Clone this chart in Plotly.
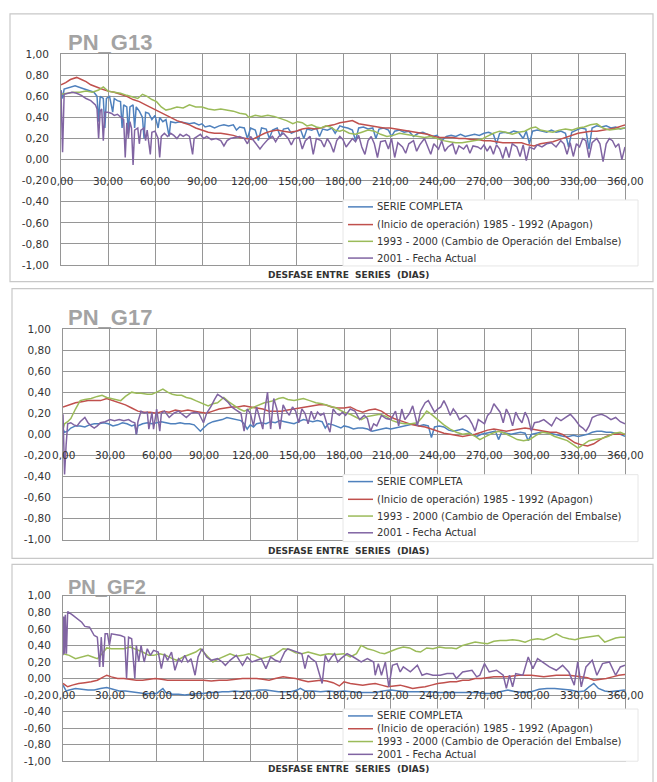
import plotly.graph_objects as go

# ---------------- data (lag in days, correlation) ----------------
SERIES_NAMES = ["SERIE COMPLETA",
                "(Inicio de operación) 1985 - 1992 (Apagon)",
                "1993 - 2000 (Cambio de Operación del Embalse)",
                "2001 - Fecha Actual"]
PANEL_TITLES = ["PN_G13", "PN_G17", "PN_GF2"]
XTICK_VALS = [0, 30, 60, 90, 120, 150, 180, 210, 240, 270, 300, 330, 360]
XTICK_TEXT = ["0,00", "30,00", "60,00", "90,00", "120,00", "150,00", "180,00",
              "210,00", "240,00", "270,00", "300,00", "330,00", "360,00"]
YTICK_VALS = [1.0, 0.8, 0.6, 0.4, 0.2, 0.0, -0.2, -0.4, -0.6, -0.8, -1.0]
YTICK_TEXT = ["1,00", "0,80", "0,60", "0,40", "0,20", "0,00", "-0,20", "-0,40",
              "-0,60", "-0,80", "-1,00"]
X_TITLE = "DESFASE ENTRE  SERIES  (DIAS)"

G13_SERIE = [(0,0.66),(1,0.58),(2,0.67),(5,0.68),(9,0.70),(13,0.68),(17,0.66),(21,0.64),(23,0.60),(24,0.36),(25,0.60),(27,0.58),(28,0.30),(29,0.58),(31,0.60),(33,0.45),(34,0.58),(36,0.56),(38,0.55),(39,0.30),(40,0.52),(42,0.50),(43,0.25),(44,0.50),(46,0.52),(47,0.30),(48,0.50),(50,0.46),(52,0.40),(53,0.20),(54,0.45),(56,0.44),(58,0.38),(60,0.42),(62,0.30),(63,0.40),(65,0.36),(67,0.38),(69,0.22),(70,0.36),(73,0.35),(76,0.36),(79,0.35),(82,0.34),(85,0.35),(88,0.33),(90,0.34),(92,0.31),(95,0.32),(98,0.30),(101,0.32),(104,0.33),(107,0.32),(110,0.33),(112,0.28),(114,0.31),(117,0.30),(119,0.20),(121,0.30),(124,0.28),(126,0.18),(128,0.30),(131,0.29),(133,0.20),(135,0.28),(138,0.30),(140,0.22),(142,0.29),(145,0.30),(147,0.25),(150,0.27),(153,0.28),(155,0.20),(157,0.29),(160,0.28),(163,0.30),(165,0.22),(167,0.29),(170,0.28),(173,0.30),(175,0.25),(178,0.32),(180,0.31),
             (183,0.30),(186,0.28),(188,0.18),(190,0.30),(193,0.31),(196,0.29),(199,0.30),(201,0.20),(203,0.29),(206,0.30),(209,0.28),(211,0.22),(213,0.27),(216,0.28),(219,0.26),(222,0.27),(225,0.22),(228,0.25),(231,0.26),(234,0.24),(237,0.22),(240,0.23),(243,0.18),(246,0.22),(249,0.23),(252,0.22),(255,0.24),(258,0.22),(261,0.23),(264,0.24),(267,0.23),(270,0.25),(273,0.26),(276,0.24),(278,0.15),(280,0.25),(283,0.26),(286,0.25),(289,0.27),(292,0.26),(295,0.20),(297,0.27),(299,0.15),(301,0.27),(304,0.28),(307,0.27),(310,0.26),(313,0.28),(316,0.26),(319,0.27),(322,0.25),(324,0.12),(326,0.26),(329,0.28),(332,0.30),(335,0.29),(337,0.10),(339,0.30),(342,0.32),(345,0.31),(348,0.32),(351,0.30),(354,0.31),(357,0.29),(360,0.30)]
G13_P1 = [(0,0.71),(3,0.73),(6,0.76),(10,0.78),(13,0.76),(16,0.74),(19,0.71),(22,0.69),(26,0.67),(30,0.65),(34,0.64),(38,0.62),(42,0.60),(46,0.57),(50,0.55),(54,0.52),(58,0.49),(62,0.46),(66,0.43),(70,0.40),(74,0.37),(78,0.35),(82,0.33),(86,0.30),(90,0.28),(94,0.26),(98,0.25),(102,0.25),(106,0.24),(110,0.23),(114,0.21),(118,0.20),(122,0.19),(126,0.22),(130,0.25),(134,0.27),(138,0.28),(142,0.27),(146,0.26),(150,0.27),(154,0.29),(158,0.30),(162,0.29),(166,0.30),(170,0.32),(174,0.33),(178,0.35),(182,0.36),(186,0.37),(190,0.34),(194,0.33),(198,0.32),(202,0.31),(206,0.30),(210,0.30),(214,0.29),(218,0.28),(222,0.27),(226,0.26),(230,0.25),(234,0.24),(238,0.22),(242,0.21),(246,0.21),(250,0.21),(254,0.20),(258,0.20),(262,0.19),(266,0.19),(270,0.18),(274,0.18),(278,0.17),(282,0.16),(286,0.16),(290,0.16),(294,0.16),(298,0.14),(302,0.13),(306,0.15),(310,0.16),(314,0.17),(318,0.19),(322,0.21),(326,0.23),(330,0.25),(334,0.26),(338,0.27),(342,0.27),(346,0.28),(350,0.29),(354,0.30),(358,0.32),(360,0.33)]
G13_P2 = [(0,0.62),(4,0.63),(8,0.64),(12,0.64),(16,0.65),(20,0.64),(24,0.66),(27,0.69),(30,0.65),(34,0.64),(38,0.63),(42,0.61),(46,0.59),(49,0.58),(52,0.62),(55,0.60),(58,0.57),(61,0.55),(64,0.50),(67,0.47),(70,0.48),(74,0.50),(78,0.49),(82,0.52),(86,0.50),(90,0.50),(94,0.48),(98,0.47),(102,0.48),(106,0.47),(110,0.46),(114,0.44),(118,0.43),(120,0.40),(124,0.42),(128,0.41),(132,0.42),(136,0.41),(140,0.39),(144,0.37),(148,0.34),(151,0.36),(154,0.35),(157,0.32),(160,0.33),(163,0.31),(166,0.30),(169,0.32),(172,0.31),(175,0.28),(178,0.27),(180,0.28),(184,0.25),(188,0.24),(192,0.26),(196,0.28),(200,0.27),(204,0.24),(208,0.22),(212,0.23),(216,0.25),(220,0.24),(224,0.23),(228,0.22),(232,0.21),(236,0.22),(240,0.20),(244,0.18),(248,0.17),(252,0.16),(256,0.16),(260,0.17),(264,0.18),(268,0.19),(272,0.22),(276,0.25),(280,0.27),(284,0.26),(288,0.24),(292,0.26),(296,0.27),(300,0.30),(303,0.31),(306,0.28),(310,0.27),(314,0.26),(318,0.28),(322,0.29),(326,0.28),(330,0.30),(334,0.31),(338,0.33),(342,0.34),(346,0.30),(350,0.28),(354,0.29),(358,0.30),(360,0.30)]
G13_P3 = [(0,0.65),(1,0.07),(2,0.62),(4,0.63),(7,0.64),(10,0.63),(13,0.61),(16,0.58),(19,0.56),(22,0.52),(23,0.48),(24,0.20),(25,0.46),(26,0.48),(27,0.18),(28,0.45),(30,0.45),(32,0.44),(34,0.42),(36,0.43),(38,0.40),(40,0.38),(41,0.02),(42,0.35),(43,0.20),(44,0.36),(45,0.30),(46,-0.05),(47,0.28),(49,0.30),(50,0.15),(51,0.28),(53,0.30),(54,0.18),(55,0.28),(57,0.05),(58,0.26),(60,0.27),(62,0.20),(63,0.02),(64,0.22),(66,0.25),(68,0.22),(70,0.25),(72,0.23),(74,0.20),(76,0.24),(78,0.22),(80,0.24),(82,0.22),(84,0.05),(85,0.20),(87,0.22),(89,0.24),(91,0.20),(93,0.22),(96,0.19),(99,0.20),(102,0.18),(104,0.13),(106,0.18),(108,0.20),(111,0.21),(114,0.22),(117,0.20),(119,0.15),(121,0.22),(124,0.16),(127,0.10),(129,0.14),(132,0.19),(135,0.22),(137,0.17),(139,0.22),(142,0.25),(145,0.20),(147,0.14),(149,0.20),(152,0.21),(154,0.10),(156,0.18),(159,0.22),(161,0.05),(163,0.20),(166,0.18),(168,0.12),(170,0.20),(172,0.15),(174,0.07),(176,0.18),(178,0.22),(180,0.19),(182,0.12),(184,0.16),(186,0.20),(188,0.17),(190,0.23),(192,0.12),(194,0.05),(196,0.18),(198,0.22),(200,0.15),(202,0.02),(204,0.17),(207,0.18),(209,0.10),(211,0.20),(213,0.02),(215,0.16),(218,0.12),(220,0.06),(222,0.15),(225,0.18),(227,0.08),(229,0.14),(232,0.20),(234,0.12),(236,0.05),(238,0.15),(241,0.10),(243,0.18),(245,0.08),(247,0.12),(250,0.15),(252,0.05),(254,0.13),(257,0.10),(259,0.14),(261,0.06),(263,0.13),(266,0.12),(268,0.10),(270,0.14),(272,0.08),(274,0.13),(276,0.05),(278,0.14),(280,0.10),(282,0.01),(284,0.12),(286,0.02),(288,0.15),(291,0.12),(293,0.03),(295,0.14),(297,-0.01),(299,0.12),(302,0.10),(304,0.14),(307,0.12),(310,0.15),(313,0.16),(316,0.12),(319,0.18),(321,0.15),(323,0.05),(325,0.16),(327,0.03),(329,0.15),(331,0.12),(333,0.20),(335,0.18),(337,0.02),(339,0.16),(342,0.20),(344,0.15),(346,-0.02),(348,0.15),(350,0.20),(352,0.18),(354,0.12),(356,0.15),(358,0.00),(360,0.12)]

G17_SERIE = [(0,0.05),(1,0.02),(3,0.03),(5,0.06),(8,0.08),(11,0.08),(14,0.07),(17,0.09),(20,0.10),(23,0.10),(26,0.11),(29,0.10),(32,0.08),(35,0.09),(38,0.11),(41,0.10),(44,0.08),(46,0.09),(47,0.00),(48,0.08),(51,0.10),(54,0.11),(57,0.10),(60,0.11),(63,0.12),(66,0.11),(69,0.10),(72,0.10),(75,0.11),(78,0.10),(81,0.10),(84,0.09),(86,0.06),(88,0.03),(90,0.06),(93,0.10),(96,0.12),(99,0.13),(102,0.14),(105,0.16),(108,0.15),(111,0.14),(114,0.13),(116,0.10),(118,0.05),(120,0.09),(122,0.07),(124,0.10),(127,0.11),(130,0.10),(133,0.12),(136,0.11),(139,0.13),(142,0.12),(145,0.11),(148,0.10),(151,0.12),(154,0.14),(157,0.13),(160,0.12),(163,0.13),(166,0.12),(168,0.06),(170,0.10),(173,0.09),(176,0.07),(178,0.06),(180,0.08),
             (183,0.07),(186,0.05),(189,0.06),(192,0.06),(195,0.05),(198,0.03),(201,0.04),(204,0.05),(207,0.06),(210,0.05),(213,0.06),(216,0.07),(219,0.08),(222,0.09),(225,0.10),(228,0.08),(231,0.09),(234,0.08),(236,-0.03),(238,0.07),(241,0.08),(244,0.07),(247,0.04),(250,0.03),(253,0.04),(256,0.05),(259,0.03),(262,0.00),(265,-0.02),(268,0.00),(271,0.01),(274,0.02),(277,0.03),(279,-0.05),(281,0.02),(284,0.01),(287,0.00),(290,0.01),(293,0.02),(296,0.01),(298,-0.06),(300,0.00),(303,0.01),(306,0.02),(309,0.02),(312,0.01),(315,0.00),(318,-0.01),(321,-0.02),(324,-0.02),(327,-0.01),(330,-0.02),(333,-0.01),(336,0.00),(339,0.02),(342,0.03),(345,0.03),(348,0.02),(351,0.02),(354,0.01),(357,0.00),(360,-0.02)]
G17_P1 = [(0,0.26),(4,0.28),(8,0.30),(12,0.31),(16,0.32),(20,0.32),(24,0.32),(28,0.34),(32,0.32),(36,0.30),(40,0.28),(44,0.25),(48,0.22),(52,0.21),(56,0.21),(60,0.20),(64,0.22),(68,0.21),(72,0.23),(76,0.22),(80,0.23),(84,0.22),(88,0.21),(92,0.20),(96,0.22),(100,0.24),(104,0.25),(108,0.26),(112,0.26),(116,0.27),(120,0.26),(124,0.25),(128,0.24),(132,0.22),(136,0.22),(140,0.22),(144,0.23),(148,0.24),(152,0.25),(156,0.26),(160,0.27),(164,0.28),(168,0.28),(172,0.26),(176,0.25),(180,0.25),(184,0.26),(188,0.23),(192,0.21),(196,0.23),(200,0.24),(204,0.22),(208,0.18),(212,0.15),(216,0.13),(220,0.11),(224,0.09),(228,0.08),(232,0.07),(236,0.05),(240,0.03),(244,0.01),(248,0.00),(252,-0.01),(256,-0.02),(260,-0.01),(264,0.00),(268,0.02),(272,0.04),(276,0.05),(280,0.04),(284,0.03),(288,0.04),(292,0.05),(296,0.06),(300,0.05),(304,0.04),(308,0.03),(312,0.02),(316,0.02),(320,0.00),(324,-0.04),(328,-0.08),(332,-0.10),(336,-0.11),(340,-0.09),(344,-0.05),(348,-0.02),(352,0.00),(356,0.00),(360,0.00)]
G17_P2 = [(0,0.05),(1,0.10),(3,0.12),(5,0.15),(8,0.24),(11,0.32),(14,0.33),(18,0.34),(22,0.36),(25,0.37),(28,0.35),(31,0.34),(34,0.33),(37,0.32),(40,0.36),(44,0.40),(47,0.39),(50,0.39),(54,0.38),(57,0.38),(60,0.40),(64,0.43),(67,0.40),(70,0.38),(73,0.37),(76,0.37),(79,0.35),(82,0.34),(85,0.32),(88,0.30),(91,0.28),(93,0.27),(96,0.29),(99,0.30),(103,0.35),(106,0.31),(110,0.27),(113,0.24),(116,0.22),(119,0.24),(122,0.26),(125,0.28),(129,0.30),(132,0.31),(135,0.32),(138,0.34),(141,0.35),(144,0.33),(148,0.32),(151,0.33),(154,0.34),(158,0.32),(162,0.30),(166,0.29),(171,0.27),(175,0.25),(180,0.21),(184,0.19),(188,0.16),(191,0.14),(195,0.17),(199,0.18),(203,0.19),(207,0.17),(211,0.13),(215,0.11),(219,0.10),(223,0.10),(227,0.11),(230,0.16),(233,0.22),(236,0.19),(240,0.14),(244,0.09),(248,0.05),(252,0.02),(256,0.00),(260,0.01),(264,-0.02),(267,-0.05),(271,-0.02),(275,0.01),(279,0.03),(283,0.01),(287,-0.02),(291,-0.05),(295,-0.06),(299,-0.05),(303,-0.01),(307,0.02),(311,0.01),(315,-0.02),(319,-0.04),(323,-0.06),(327,-0.10),(330,-0.13),(333,-0.10),(337,-0.06),(341,-0.05),(345,-0.04),(349,-0.02),(353,0.01),(357,0.02),(360,0.00)]
G17_P3 = [(0,0.19),(1,-0.38),(2,-0.10),(3,0.10),(5,0.11),(7,0.09),(9,0.08),(11,0.12),(14,0.16),(16,0.11),(18,0.08),(20,0.06),(22,0.08),(24,0.11),(27,0.12),(30,0.14),(33,0.13),(36,0.14),(39,0.13),(42,0.14),(44,0.12),(46,0.11),(47,0.00),(48,0.12),(50,0.22),(52,0.20),(54,0.21),(55,0.05),(57,0.21),(58,0.05),(60,0.24),(62,0.03),(63,0.20),(65,0.22),(68,0.16),(71,0.20),(74,0.22),(77,0.18),(79,0.16),(82,0.20),(85,0.21),(87,0.20),(90,0.11),(92,0.20),(95,0.27),(97,0.33),(99,0.38),(101,0.36),(103,0.34),(106,0.30),(108,0.26),(110,0.24),(112,0.22),(114,0.20),(116,0.03),(118,0.24),(120,0.20),(122,0.08),(124,0.26),(126,0.15),(128,0.05),(129,0.20),(131,0.40),(133,0.05),(135,0.34),(137,0.24),(139,0.05),(141,0.28),(143,0.22),(145,0.18),(147,0.26),(149,0.22),(151,0.11),(153,0.24),(155,0.20),(157,0.10),(159,0.22),(161,0.14),(163,0.21),(165,0.18),(167,0.20),(169,0.10),(171,0.02),(173,0.24),(175,0.20),(177,0.18),(179,0.21),(181,0.18),(184,0.24),(187,0.22),(190,0.14),(193,0.18),(195,0.15),(197,0.03),(199,0.10),(201,0.08),(204,0.18),(207,0.15),(210,0.14),(213,0.22),(215,0.08),(217,0.24),(219,0.14),(222,0.20),(224,0.27),(226,0.15),(227,0.08),(229,0.22),(232,0.30),(234,0.32),(236,0.27),(238,0.21),(240,0.24),(242,0.26),(244,0.32),(246,0.26),(248,0.18),(250,0.24),(252,0.20),(254,0.14),(256,0.16),(258,0.18),(260,0.15),(262,0.10),(264,0.03),(266,0.14),(268,0.12),(270,0.10),(272,0.18),(274,0.21),(276,0.29),(278,0.25),(280,0.21),(282,0.11),(284,0.24),(286,0.18),(288,0.08),(290,0.21),(292,0.15),(294,0.11),(296,0.21),(298,0.15),(300,0.03),(302,0.11),(305,0.12),(308,0.14),(311,0.10),(313,0.08),(316,0.16),(319,0.13),(322,0.16),(325,0.19),(328,0.14),(331,0.08),(333,0.06),(335,0.03),(337,0.08),(339,0.16),(342,0.18),(345,0.19),(348,0.17),(351,0.14),(354,0.16),(357,0.12),(360,0.10)]

GF2_SERIE = [(0,-0.08),(2,-0.15),(4,-0.14),(8,-0.12),(12,-0.13),(16,-0.14),(20,-0.14),(24,-0.12),(28,-0.11),(32,-0.13),(36,-0.15),(40,-0.15),(44,-0.16),(48,-0.17),(52,-0.18),(56,-0.18),(60,-0.18),(64,-0.12),(66,-0.17),(70,-0.19),(74,-0.19),(78,-0.20),(82,-0.19),(86,-0.18),(90,-0.18),(94,-0.17),(98,-0.17),(102,-0.16),(106,-0.16),(110,-0.15),(114,-0.16),(118,-0.15),(122,-0.15),(126,-0.14),(130,-0.14),(134,-0.15),(138,-0.16),(142,-0.16),(146,-0.16),(150,-0.14),(152,-0.12),(155,-0.15),(160,-0.15),(165,-0.16),(170,-0.15),(175,-0.16),(180,-0.15),(185,-0.16),(190,-0.17),(195,-0.17),(200,-0.17),(205,-0.15),(210,-0.14),(215,-0.15),(220,-0.16),(225,-0.16),(230,-0.16),(235,-0.16),(240,-0.17),(245,-0.17),(250,-0.17),(255,-0.17),(260,-0.17),(265,-0.17),(270,-0.18),(275,-0.18),(280,-0.16),(285,-0.14),(290,-0.16),(295,-0.17),(300,-0.16),(305,-0.13),(310,-0.12),(315,-0.12),(320,-0.13),(325,-0.14),(330,-0.16),(334,-0.15),(337,-0.10),(340,-0.06),(343,-0.12),(347,-0.15),(350,-0.16),(355,-0.15),(360,-0.14)]
GF2_P1 = [(0,-0.06),(3,-0.10),(6,-0.08),(10,-0.06),(14,-0.05),(18,-0.04),(22,-0.02),(25,0.01),(28,0.04),(31,0.02),(35,0.00),(39,0.00),(43,-0.01),(47,-0.02),(51,-0.02),(55,-0.01),(59,0.00),(63,-0.01),(67,-0.02),(71,-0.02),(75,-0.02),(80,-0.02),(85,-0.02),(90,-0.02),(95,-0.03),(100,-0.02),(105,-0.02),(110,-0.01),(115,0.00),(120,0.00),(124,0.00),(128,-0.01),(132,-0.02),(136,0.00),(141,0.02),(145,0.01),(149,0.00),(153,-0.02),(157,-0.04),(161,-0.03),(165,-0.02),(169,-0.03),(173,-0.05),(177,-0.09),(180,-0.04),(184,-0.06),(188,-0.07),(192,-0.08),(196,-0.07),(200,-0.06),(204,-0.08),(208,-0.10),(212,-0.09),(216,-0.08),(220,-0.10),(224,-0.12),(228,-0.11),(232,-0.10),(236,-0.08),(240,-0.06),(244,-0.05),(248,-0.04),(252,-0.04),(256,-0.02),(260,-0.02),(264,0.00),(268,0.00),(272,0.01),(276,0.02),(280,0.02),(284,0.02),(288,0.03),(292,0.04),(296,0.04),(300,0.04),(304,0.03),(308,0.02),(312,0.03),(316,0.04),(320,0.04),(324,0.04),(328,0.03),(332,0.02),(336,0.01),(340,-0.02),(344,-0.01),(348,0.00),(352,0.02),(356,0.04),(360,0.05)]
GF2_P2 = [(0,0.30),(4,0.28),(8,0.24),(12,0.26),(16,0.28),(19,0.26),(22,0.24),(25,0.30),(28,0.37),(31,0.36),(35,0.36),(39,0.36),(43,0.38),(47,0.35),(51,0.32),(55,0.28),(58,0.28),(62,0.30),(66,0.28),(70,0.24),(73,0.22),(77,0.26),(81,0.29),(85,0.32),(88,0.36),(92,0.28),(96,0.20),(100,0.24),(104,0.28),(107,0.30),(111,0.27),(115,0.28),(119,0.30),(123,0.28),(127,0.24),(131,0.26),(135,0.28),(138,0.32),(141,0.36),(145,0.35),(149,0.31),(153,0.30),(157,0.32),(161,0.30),(165,0.28),(170,0.30),(175,0.29),(180,0.30),(184,0.26),(188,0.30),(191,0.40),(195,0.36),(199,0.34),(203,0.31),(206,0.30),(210,0.33),(214,0.36),(218,0.38),(222,0.37),(226,0.33),(229,0.32),(233,0.37),(237,0.36),(241,0.38),(245,0.37),(249,0.37),(252,0.36),(256,0.40),(260,0.42),(264,0.44),(268,0.43),(272,0.42),(276,0.45),(280,0.46),(284,0.46),(288,0.47),(292,0.46),(296,0.44),(300,0.47),(304,0.48),(308,0.47),(312,0.50),(316,0.54),(320,0.50),(324,0.48),(328,0.47),(332,0.49),(336,0.50),(340,0.51),(343,0.52),(347,0.44),(350,0.46),(354,0.49),(357,0.50),(360,0.50)]
GF2_P3 = [(0,0.28),(0.5,0.75),(1,0.30),(1.5,0.77),(2.2,0.30),(3,0.81),(6,0.77),(9,0.73),(12,0.68),(14,0.63),(17,0.62),(20,0.52),(22,0.50),(23.5,0.14),(24.5,0.50),(25.7,0.14),(27,0.54),(28.5,0.54),(29.7,0.40),(31,0.54),(34,0.53),(37,0.52),(39.5,0.50),(40.7,0.00),(42,0.50),(44,0.48),(46,0.00),(47,0.40),(48.5,0.20),(50,0.40),(52,0.20),(54,0.36),(56,0.28),(58,0.34),(61,0.32),(63,0.12),(65,0.30),(67,0.22),(69.5,0.32),(71.7,0.10),(74,0.24),(76,0.20),(78,0.28),(80,0.20),(82,0.24),(84.6,0.04),(86.5,0.26),(89,0.36),(92,0.26),(95,0.22),(99,0.24),(102,0.20),(104,0.16),(107,0.22),(111,0.28),(115,0.16),(118,0.26),(121,0.20),(124,0.22),(127,0.24),(130,0.12),(133,0.26),(136,0.22),(139,0.20),(142,0.32),(144,0.36),(147,0.34),(150,0.32),(153,0.30),(155,0.12),(157,0.28),(159,0.24),(162,0.20),(166,-0.06),(168,0.28),(170,0.20),(172,0.26),(174,0.30),(176,0.20),(178,0.24),
             (182,0.30),(186,0.26),(191,0.20),(195,0.24),(199,0.20),(200,0.04),(202,0.18),(204,0.04),(206.5,0.20),(208.7,-0.10),(211,0.16),(214,0.18),(216,0.08),(218,0.14),(222.5,0.08),(227,0.16),(230,0.04),(233,0.06),(237,0.04),(241.6,0.04),(246,0.06),(250,0.06),(252,0.00),(256,0.08),(262,0.10),(265,0.02),(267,0.04),(270,0.18),(273,0.08),(277.7,0.10),(282,0.04),(284,-0.12),(286,0.04),(288,-0.10),(290,0.06),(294.6,0.04),(298,0.26),(301,0.12),(304,0.24),(307,0.20),(311.6,0.14),(316,0.10),(320,0.16),(324,0.08),(327.5,-0.08),(329.7,0.20),(332,-0.10),(335,0.14),(339,0.22),(342,0.04),(345.6,0.18),(350,0.20),(354,0.04),(357,0.14),(360,0.16)]

PANELS = [[G13_SERIE, G13_P1, G13_P2, G13_P3],
          [G17_SERIE, G17_P1, G17_P2, G17_P3],
          [GF2_SERIE, GF2_P1, GF2_P2, GF2_P3]]

# ---------------- styling / layout ----------------
COLORS = ["#4f81bd", "#c0504d", "#9bbb59", "#8064a2"]
W, H = 657, 782
GRID = "#969696"
TXT = "#333333"

def px(x):
    return x / W

def py(y):
    return 1 - y / H

# plot areas (pixel boxes) and panel frames
PLOT_BOX = [(61, 625, 49, 263), (63, 625, 328, 542), (63, 625, 599, 767)]
FRAME_BOX = [(10, 653, 8, 280), (12, 653, 287, 561), (12, 653, 567, 790)]
TITLE_Y = [37, 316, 590]
TITLE_SIZE = [22, 22, 20]
XTITLE_Y = [273, 553, 775]
LEG_BOX = [(343, 638, 197, 264), (343, 638, 476, 544), (343, 638, 714, 767)]
LEG_ROWS = [[204, 222, 239, 256], [483, 501, 518, 535], [721, 734, 747, 760]]

fig = go.Figure()
layout = dict(width=W, height=H, autosize=False, margin=dict(l=0, r=0, t=0, b=0),
              paper_bgcolor="white", plot_bgcolor="white", showlegend=False,
              font=dict(family="DejaVu Sans", color=TXT))
shapes, annotations = [], []

for i, series in enumerate(PANELS):
    sfx = "" if i == 0 else str(i + 1)
    x0, x1, y0, y1 = PLOT_BOX[i]
    layout["xaxis" + sfx] = dict(domain=[px(x0), px(x1)], range=[0, 360], anchor="y" + sfx,
                                 tickvals=XTICK_VALS, showticklabels=False, showgrid=True,
                                 gridcolor=GRID, gridwidth=1, zeroline=False,
                                 showline=True, mirror=True, linecolor=GRID, linewidth=1)
    layout["yaxis" + sfx] = dict(domain=[py(y1), py(y0)], range=[-1, 1], anchor="x" + sfx,
                                 tickvals=YTICK_VALS, ticktext=YTICK_TEXT, showgrid=True,
                                 gridcolor=GRID, gridwidth=1, zeroline=False,
                                 showline=True, mirror=True, linecolor=GRID, linewidth=1,
                                 ticklabelstandoff=9,
                                 tickfont=dict(size=10.5, color=TXT, family="DejaVu Sans"))
    for k, data in enumerate(series):
        xs = [d[0] for d in data]
        ys = [d[1] for d in data]
        fig.add_trace(go.Scatter(x=xs, y=ys, mode="lines", name=SERIES_NAMES[k],
                                 line=dict(color=COLORS[k], width=1.5),
                                 xaxis="x" + sfx, yaxis="y" + sfx))
    # x tick labels sit on the -0,20 line (axis crosses at zero, Excel style)
    for v, t in zip(XTICK_VALS, XTICK_TEXT):
        annotations.append(dict(x=v, y=-0.2, xref="x" + sfx, yref="y" + sfx, text=t,
                                showarrow=False, xanchor="center", yanchor="middle",
                                font=dict(size=10.5, color=TXT, family="DejaVu Sans")))
    # frame
    fx0, fx1, fy0, fy1 = FRAME_BOX[i]
    shapes.append(dict(type="rect", xref="paper", yref="paper", x0=px(fx0), x1=px(fx1),
                       y0=py(fy1), y1=py(fy0), line=dict(color="#c8c8c8", width=1.2),
                       fillcolor="rgba(0,0,0,0)", layer="below"))
    # title
    annotations.append(dict(x=px(66), y=py(TITLE_Y[i]), xref="paper", yref="paper",
                            text="<b>" + PANEL_TITLES[i] + "</b>", showarrow=False,
                            xanchor="left", yanchor="middle",
                            font=dict(size=TITLE_SIZE[i], color="#a3a3a3", family="Liberation Sans")))
    # axis title
    annotations.append(dict(x=px(348), y=py(XTITLE_Y[i]), xref="paper", yref="paper",
                            text="<b>" + X_TITLE + "</b>", showarrow=False,
                            xanchor="center", yanchor="middle",
                            font=dict(size=9, color=TXT, family="DejaVu Sans")))
    # legend box
    lx0, lx1, ly0, ly1 = LEG_BOX[i]
    shapes.append(dict(type="rect", xref="paper", yref="paper", x0=px(lx0), x1=px(lx1),
                       y0=py(ly1), y1=py(ly0), line=dict(color="#e6e6e6", width=1),
                       fillcolor="white", layer="above"))
    for k, ry in enumerate(LEG_ROWS[i]):
        shapes.append(dict(type="line", xref="paper", yref="paper", x0=px(348), x1=px(373),
                           y0=py(ry), y1=py(ry), line=dict(color=COLORS[k], width=1.5),
                           layer="above"))
        annotations.append(dict(x=px(375), y=py(ry), xref="paper", yref="paper",
                                text=SERIES_NAMES[k], showarrow=False, xanchor="left",
                                yanchor="middle",
                                font=dict(size=10, color=TXT, family="DejaVu Sans")))

layout["shapes"] = shapes
layout["annotations"] = annotations
fig.update_layout(**layout)
fig.write_html("out.html", config={"displayModeBar": False},
               post_script="document.body.style.margin='0px';document.body.style.overflow='hidden';")
